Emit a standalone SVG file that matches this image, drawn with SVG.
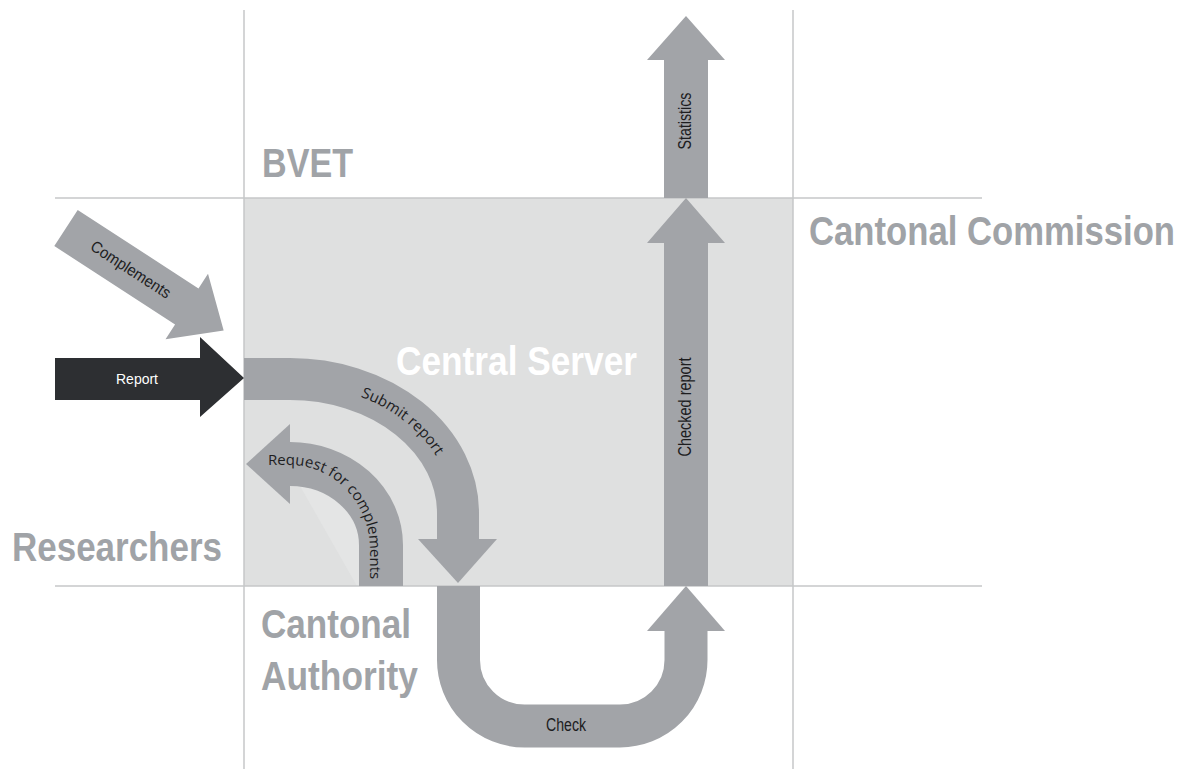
<svg xmlns="http://www.w3.org/2000/svg" width="1193" height="769" viewBox="0 0 1193 769">
<style>
.region{font-family:"Liberation Sans",Arial,sans-serif;font-weight:bold;font-size:41px;fill:#a0a3a7}
.grid{stroke:#c6c7c9;stroke-width:1.5;fill:none}
.arrow{fill:#a2a4a8}
.shaft{fill:none;stroke:#a2a4a8}
.lbl{font-family:"Liberation Sans",Arial,sans-serif;fill:#1d1d1f}
.curv{font-family:"Open Sans","DejaVu Sans",sans-serif;font-size:15px;fill:#1d1d1f}
</style>
<defs>
<path id="submitPath" d="M244,384 H290 A163,129 0 0 1 453,513 V580"/>
<path id="requestPath" d="M256,465 H290 A80,85 0 0 1 370,550 V610"/>
</defs>
<rect x="0" y="0" width="1193" height="769" fill="#ffffff"/>
<g id="central-server">
<rect x="244" y="198" width="549" height="388" fill="#dfe0e0"/>
<path d="M300,486 L357,586 L359,586 V545 A69,59 0 0 0 290,486 Z" fill="#e4e5e5"/>
<text class="region" x="396" y="375" textLength="241" lengthAdjust="spacingAndGlyphs" style="fill:#ffffff">Central Server</text>
</g>
<g id="grid">
<line class="grid" x1="244" y1="10" x2="244" y2="769"/>
<line class="grid" x1="793" y1="10" x2="793" y2="769"/>
<line class="grid" x1="55" y1="198" x2="982" y2="198"/>
<line class="grid" x1="55" y1="586" x2="982" y2="586"/>
</g>
<g id="bvet"><text class="region" x="262" y="177" textLength="91" lengthAdjust="spacingAndGlyphs">BVET</text></g>
<g id="cantonal-commission"><text class="region" transform="translate(809,245) scale(1,1.17)" x="0" y="0" style="font-size:35px" textLength="366" lengthAdjust="spacingAndGlyphs">Cantonal Commission</text></g>
<g id="researchers"><text class="region" x="12" y="561" textLength="210" lengthAdjust="spacingAndGlyphs">Researchers</text></g>
<g id="cantonal-authority">
<text class="region" x="261" y="638" textLength="150" lengthAdjust="spacingAndGlyphs">Cantonal</text>
<text class="region" x="261" y="690" textLength="157" lengthAdjust="spacingAndGlyphs">Authority</text>
</g>
<g id="connectors">
<g id="report">
<polygon points="55,358 200,358 200,337 244,378 200,417 200,400 55,400" fill="#2d2f32"/>
<text class="lbl" x="137" y="384" font-size="15" text-anchor="middle" textLength="42" lengthAdjust="spacingAndGlyphs" style="fill:#ffffff">Report</text>
</g>
<g id="complements" transform="translate(66,228) rotate(33)">
<polygon class="arrow" points="0,-21.5 144,-21.5 144,-39 188,0 144,39 144,21.5 0,21.5"/>
<text class="lbl" x="77" y="5" font-size="16" text-anchor="middle" textLength="92" lengthAdjust="spacingAndGlyphs">Complements</text>
</g>
<g id="submit-report">
<path class="shaft" stroke-width="42" d="M244,379 H290 A168,134 0 0 1 458,513 V540"/>
<polygon class="arrow" points="418,539 497,539 458,583"/>
<text class="curv"><textPath href="#submitPath" startOffset="118">Submit report</textPath></text>
</g>
<g id="request-complements">
<path class="shaft" stroke-width="44" d="M381,586 V545 A91,81 0 0 0 290,464 H289"/>
<polygon class="arrow" points="290,424 246,464 290,504"/>
<text class="curv"><textPath href="#requestPath" startOffset="12">Request for complements</textPath></text>
</g>
<g id="check">
<path class="shaft" stroke-width="43" d="M458.5,586 V660 A66,66 0 0 0 524.5,726 H620 A66,66 0 0 0 686,660 V630"/>
<polygon class="arrow" points="647,631 686,586 725,631"/>
<text class="lbl" x="566" y="731" font-size="18" text-anchor="middle" textLength="40" lengthAdjust="spacingAndGlyphs">Check</text>
</g>
<g id="checked-report">
<polygon class="arrow" points="664,586 664,243 647,243 686,198 725,243 708,243 708,586"/>
<text class="lbl" transform="translate(691,407) rotate(-90)" font-size="19" text-anchor="middle" textLength="99" lengthAdjust="spacingAndGlyphs">Checked report</text>
</g>
<g id="statistics">
<polygon class="arrow" points="664,198 664,60 647,60 686,16 725,60 708,60 708,198"/>
<text class="lbl" transform="translate(691,121) rotate(-90)" font-size="19" text-anchor="middle" textLength="57" lengthAdjust="spacingAndGlyphs">Statistics</text>
</g>
</g>
</svg>
